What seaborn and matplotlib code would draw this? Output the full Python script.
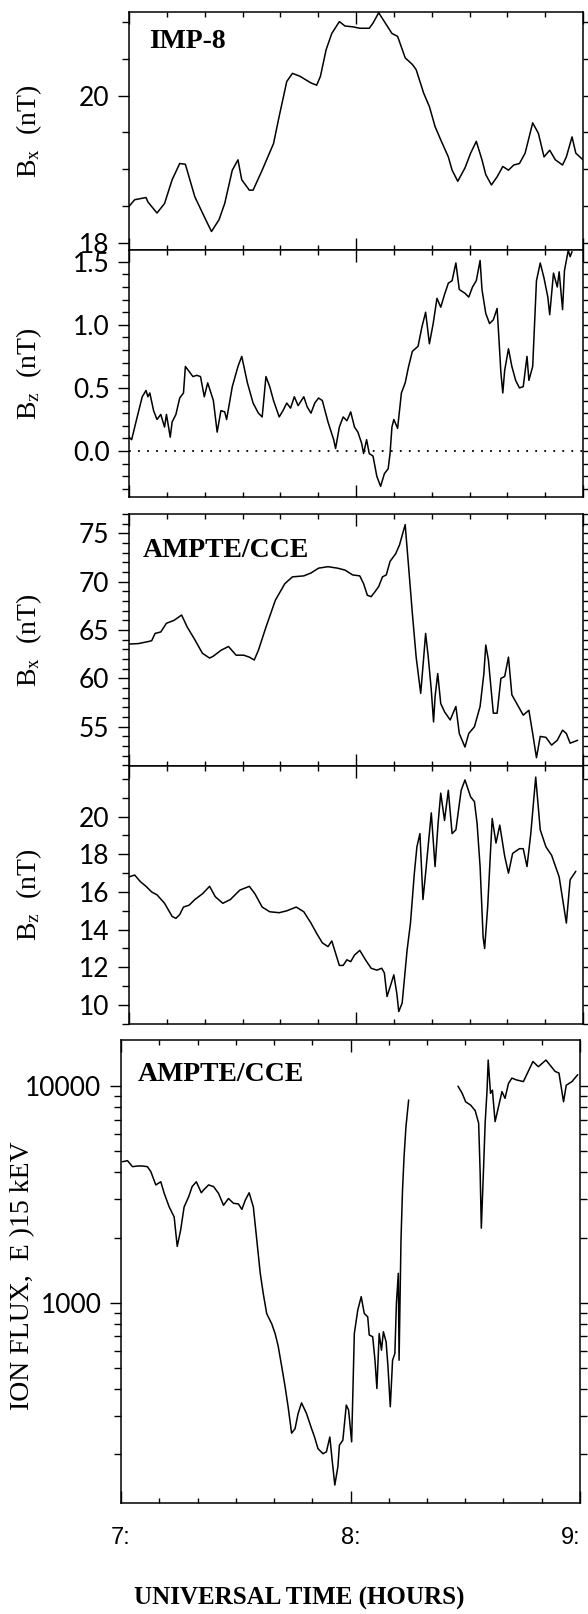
"""IMP-8 and AMPTE/CCE magnetic field and ion flux, 07:00-09:00 UT."""

import matplotlib
matplotlib.use("Agg")
import matplotlib.pyplot as plt
import matplotlib.ticker as mticker
import numpy as np
import pandas as pd
import seaborn as sns

# times are minutes after 07:00 UT
imp_bx_min = [0, 1.5, 4.5, 5.0, 7.4, 9.4, 11.4, 13.4, 14.9, 17.4, 19.9, 21.8, 23.8, 25.3,
              27.3, 28.8, 29.8, 31.8, 32.8, 35.2, 38.2, 39.7, 41.7, 43.2, 45.2, 48.1, 49.6,
              50.6, 52.1, 53.6, 55.6, 57.1, 59.1, 61.0, 63.5, 64.5, 66.0, 67.5, 69.5, 71.0,
              73.0, 74.9, 75.9, 77.9, 79.4, 80.9, 82.4, 84.4, 85.4, 86.9, 88.8, 90.3, 91.8,
              93.3, 94.3, 95.8, 97.3, 98.8, 100.3, 101.7, 103.2, 104.7, 106.7, 108.2, 109.7,
              111.2, 112.7, 114.6, 115.6, 117.1, 118.1, 120.0]
imp_bx = [18.50, 18.59, 18.62, 18.56, 18.41, 18.54, 18.86, 19.08, 19.07, 18.63, 18.36, 18.16,
          18.32, 18.54, 18.99, 19.13, 18.86, 18.72, 18.72, 18.99, 19.35, 19.72, 20.19, 20.30,
          20.26, 20.17, 20.14, 20.26, 20.62, 20.84, 21.00, 20.94, 20.93, 20.91, 20.91, 20.98,
          21.12, 21.00, 20.84, 20.80, 20.51, 20.42, 20.35, 20.03, 19.85, 19.58, 19.40, 19.17,
          18.99, 18.84, 19.02, 19.22, 19.38, 19.13, 18.93, 18.79, 18.90, 19.04, 18.99, 19.06,
          19.08, 19.22, 19.63, 19.49, 19.17, 19.26, 19.13, 19.06, 19.17, 19.44, 19.22, 19.13]

imp_bz_min = [0, 0.7, 2.0, 3.5, 4.5, 5.0, 5.5, 6.5, 7.4, 8.4, 9.4, 9.9, 10.9, 11.4, 12.4,
              13.4, 14.4, 14.9, 15.9, 16.9, 17.9, 18.9, 19.9, 20.8, 22.3, 23.3, 24.3, 25.3,
              25.8, 27.3, 28.8, 29.8, 31.3, 32.8, 34.2, 35.2, 36.2, 37.2, 38.2, 39.7, 40.7,
              41.7, 42.7, 43.7, 44.7, 46.2, 47.1, 48.1, 49.1, 50.1, 51.1, 52.6, 54.1, 54.6,
              55.6, 56.6, 57.6, 58.6, 59.6, 60.5, 61.5, 62.0, 62.8, 63.5, 64.5, 65.5, 66.5,
              67.5, 68.5, 69.0, 69.5, 70.0, 71.0, 72.0, 73.0, 73.9, 74.9, 76.4, 77.4, 78.4,
              79.4, 80.4, 81.4, 82.4, 83.4, 84.4, 85.4, 86.4, 87.3, 88.8, 89.8, 90.8, 91.8,
              92.8, 93.3, 94.3, 95.3, 96.3, 97.3, 97.8, 98.3, 98.8, 99.3, 100.3, 101.2, 102.2,
              103.2, 104.2, 105.2, 105.7, 106.7, 107.7, 108.7, 109.7, 110.7, 111.2, 112.2,
              113.2, 113.7, 114.6, 115.1, 116.1, 116.6, 117.1]
imp_bz = [0.11, 0.09, 0.25, 0.43, 0.48, 0.43, 0.46, 0.32, 0.25, 0.29, 0.19, 0.29, 0.11, 0.23,
          0.29, 0.42, 0.46, 0.67, 0.63, 0.59, 0.60, 0.59, 0.43, 0.54, 0.40, 0.15, 0.32, 0.31,
          0.25, 0.51, 0.67, 0.75, 0.54, 0.38, 0.30, 0.27, 0.59, 0.51, 0.40, 0.27, 0.32, 0.38,
          0.34, 0.43, 0.36, 0.43, 0.35, 0.30, 0.38, 0.42, 0.40, 0.23, 0.09, 0.02, 0.19, 0.27,
          0.24, 0.31, 0.19, 0.15, 0.06, -0.02, 0.09, -0.02, -0.04, -0.20, -0.28, -0.18, -0.14,
          -0.02, 0.19, 0.25, 0.18, 0.46, 0.54, 0.67, 0.79, 0.83, 0.98, 1.10, 0.85, 1.01, 1.21,
          1.14, 1.24, 1.33, 1.35, 1.49, 1.28, 1.25, 1.22, 1.30, 1.35, 1.51, 1.28, 1.09, 1.01,
          1.04, 1.13, 0.88, 0.62, 0.46, 0.64, 0.81, 0.67, 0.56, 0.50, 0.51, 0.75, 0.56, 0.67,
          1.35, 1.49, 1.37, 1.22, 1.08, 1.41, 1.30, 1.42, 1.12, 1.43, 1.59, 1.54, 1.58]

cce_bx_min = [0, 2.5, 5.0, 6.0, 6.9, 8.4, 9.9, 11.9, 13.9, 15.4, 17.4, 19.4, 21.3, 22.3,
              24.3, 26.3, 28.3, 30.3, 31.8, 33.1, 34.2, 36.2, 38.7, 41.2, 43.2, 46.2, 48.1,
              50.1, 52.6, 55.1, 57.1, 59.1, 61.0, 62.0, 63.0, 64.0, 65.0, 66.0, 67.0, 68.0,
              69.0, 70.5, 71.5, 73.0, 73.9, 74.9, 75.9, 77.1, 77.9, 78.4, 79.1, 79.9, 80.5,
              80.9, 81.6, 82.4, 83.4, 84.9, 86.4, 87.3, 88.8, 89.8, 91.3, 92.8, 93.8, 94.3,
              95.0, 96.3, 97.3, 98.3, 99.3, 100.3, 101.2, 103.2, 104.2, 105.7, 106.7, 107.7,
              108.7, 110.2, 111.7, 113.2, 114.6, 115.6, 116.6, 118.6]
cce_bx = [63.55, 63.6, 63.8, 63.9, 64.65, 64.8, 65.7, 66.0, 66.55, 65.3, 64.0, 62.6, 62.1,
          62.3, 62.9, 63.3, 62.4, 62.4, 62.2, 61.9, 62.9, 65.3, 68.1, 69.8, 70.5, 70.6, 70.9,
          71.4, 71.55, 71.4, 71.2, 70.7, 70.6, 69.8, 68.6, 68.45, 68.95, 69.5, 70.5, 70.7,
          72.1, 72.9, 73.8, 75.9, 71.55, 66.7, 62.2, 58.45, 62.2, 64.65, 62.2, 58.8, 55.5,
          58.1, 60.5, 57.4, 56.55, 55.7, 57.1, 54.3, 52.9, 54.3, 55.0, 57.1, 60.5, 63.45,
          61.9, 56.4, 56.4, 60.0, 60.2, 62.2, 58.3, 56.9, 56.2, 56.7, 54.3, 51.8, 54.0, 53.9,
          53.1, 53.6, 54.65, 54.3, 53.3, 53.6]

cce_bz_min = [0, 1.5, 3.0, 4.5, 6.0, 7.4, 9.4, 11.4, 12.4, 13.4, 14.4, 15.9, 17.4, 19.4,
              21.3, 22.8, 24.8, 26.8, 29.3, 31.8, 33.3, 35.2, 37.2, 39.7, 41.7, 44.2, 46.2,
              48.1, 49.6, 51.1, 52.6, 53.6, 54.6, 55.6, 56.6, 57.6, 58.6, 59.6, 61.0, 62.5,
              64.0, 65.5, 66.8, 67.5, 68.2, 69.0, 70.0, 70.8, 71.3, 72.2, 73.5, 74.4, 75.4,
              76.1, 76.9, 77.7, 78.4, 79.9, 80.9, 81.7, 82.4, 83.4, 84.4, 85.4, 86.4, 87.8,
              88.8, 90.3, 91.3, 92.0, 92.8, 93.6, 94.0, 94.8, 96.0, 97.0, 98.0, 99.3, 100.3,
              101.4, 103.2, 104.2, 105.2, 106.2, 107.5, 108.7, 110.2, 111.7, 113.7, 115.6,
              116.6, 118.1]
cce_bz = [16.8, 16.9, 16.55, 16.3, 16.0, 15.85, 15.4, 14.7, 14.6, 14.8, 15.2, 15.3, 15.6,
          15.9, 16.3, 15.75, 15.4, 15.6, 16.1, 16.3, 15.9, 15.2, 14.95, 14.9, 15.0, 15.2,
          14.95, 14.35, 13.8, 13.3, 13.1, 13.4, 12.75, 12.1, 12.1, 12.4, 12.3, 12.65, 12.9,
          12.4, 11.95, 11.85, 11.95, 11.7, 10.45, 10.95, 11.6, 10.6, 9.65, 10.1, 12.9, 14.35,
          16.95, 18.4, 19.1, 15.6, 17.0, 20.2, 17.35, 19.65, 21.25, 19.8, 21.4, 19.1, 19.3,
          21.4, 21.95, 21.05, 20.8, 19.65, 17.35, 13.6, 13.0, 15.2, 19.9, 18.6, 19.55, 17.9,
          17.0, 18.05, 18.3, 18.3, 17.35, 19.1, 22.1, 19.3, 18.4, 17.95, 16.8, 14.35, 16.65,
          17.1]

# ion flux, E > 15 keV: two data stretches with a gap between them
flux_a_min = [0.4, 1.7, 3.0, 4.3, 5.6, 6.9, 7.8, 9.1, 10.4, 11.3, 12.6, 13.9, 14.7, 15.6,
              16.5, 17.7, 18.6, 19.7, 21.0, 21.6, 22.9, 24.2, 25.5, 26.8, 28.1, 29.4, 30.7,
              31.6, 32.5, 33.5, 34.6, 35.5, 36.4, 37.2, 38.1, 39.4, 40.3, 41.1, 42.0, 42.9,
              43.7, 44.6, 45.5, 46.3, 47.2, 48.5, 49.8, 50.6, 51.5, 52.8, 53.7, 54.6, 55.2,
              55.9, 56.7, 57.1, 58.0, 58.9, 59.5, 60.3, 61.0, 61.9, 62.8, 63.6, 64.5, 64.9,
              65.8, 66.4, 66.9, 67.5, 68.1, 68.6, 69.3, 69.8, 70.4, 71.0, 71.6, 72.0, 72.5,
              72.7, 73.2, 73.6, 74.0, 74.5, 75.2]
flux_a = [4480, 4530, 4250, 4280, 4280, 4250, 4030, 3500, 3620, 3200, 2770, 2490, 1820, 2170,
          2770, 3090, 3440, 3620, 3220, 3320, 3500, 3440, 3200, 2820, 3030, 2880, 2860, 2700,
          2980, 3220, 2770, 1950, 1370, 1100, 890, 800, 720, 630, 510, 410, 330, 250, 262,
          308, 345, 308, 263, 240, 212, 201, 205, 240, 188, 144, 175, 220, 232, 337, 320,
          228, 721, 925, 1067, 893, 861, 710, 697, 543, 402, 721, 604, 735, 661, 507, 331,
          543, 583, 993, 1368, 543, 1950, 3320, 4720, 6500, 8630]
flux_b_min = [88.1, 89.2, 90.1, 91.4, 92.6, 93.5, 93.9, 94.2, 94.8, 95.2, 95.7, 96.0, 96.6,
              97.1, 97.8, 98.7, 99.6, 100.4, 101.3, 102.2, 103.3, 105.2, 107.7, 109.1, 111.1,
              113.5, 114.5, 115.7, 116.4, 117.9, 119.4]
flux_b = [10000, 9270, 8470, 8180, 7710, 6750, 3960, 2210, 4250, 6750, 9590, 13200, 9270,
          9590, 6860, 8040, 9440, 8790, 10300, 10900, 10700, 10500, 13000, 12300, 13200,
          11700, 11500, 8470, 10100, 10500, 11300]

hour_ticks = [7, 8, 9]
hour_labels = ["7:", "8:", "9:"]

SERIF = ["Liberation Serif", "DejaVu Serif"]
THIN = ["Lato", "DejaVu Sans"]

sns.set_theme(style="ticks", rc={"axes.linewidth": 1.1, "xtick.color": "black",
                                 "ytick.color": "black", "axes.edgecolor": "black",
                                 "text.color": "black", "axes.labelcolor": "black"})
plt.rcParams["font.family"] = THIN
plt.rcParams["mathtext.fontset"] = "stix"


def to_frame(minutes, values):
    return pd.DataFrame({"ut": 7 + np.asarray(minutes, dtype=float) / 60.0,
                         "value": np.asarray(values, dtype=float)})


def trace(ax, minutes, values):
    sns.lineplot(data=to_frame(minutes, values), x="ut", y="value", ax=ax,
                 color="black", linewidth=1.1, estimator=None, sort=False)


def style_axis(ax, ylabel):
    ax.set_xlim(7, 9)
    ax.xaxis.set_major_locator(mticker.FixedLocator(hour_ticks))
    ax.xaxis.set_minor_locator(mticker.MultipleLocator(1 / 6))
    ax.tick_params(axis="x", which="both", direction="in", top=True, bottom=True,
                   labelbottom=False, width=1.0)
    ax.tick_params(axis="x", which="major", length=8.5)
    ax.tick_params(axis="x", which="minor", length=3.6)
    ax.tick_params(axis="y", which="both", direction="out", left=True, right=True, width=1.0)
    ax.tick_params(axis="y", which="major", length=8, pad=6, labelsize=19)
    ax.tick_params(axis="y", which="minor", length=5)
    ax.set_xlabel("")
    ax.set_ylabel(ylabel, fontsize=20, family=SERIF)
    # label anchored at its right edge, ~45 px from the figure's left
    ax.yaxis.set_label_coords(-0.187, 0.5)
    for side in ("top", "right", "left", "bottom"):
        ax.spines[side].set_visible(True)


fig = plt.figure(figsize=(5.88, 16.14), dpi=100)
H = 1614.0
W = 588.0


def add_panel(top, bottom, left=129, right=583):
    return fig.add_axes([left / W, 1 - bottom / H, (right - left) / W, (bottom - top) / H])


ax1 = add_panel(12, 250)
ax2 = add_panel(250, 496.7)
ax3 = add_panel(514, 766)
ax4 = add_panel(766, 1024)
ax5 = add_panel(1040, 1503, left=121, right=580)

# IMP-8 Bx
trace(ax1, imp_bx_min, imp_bx)
ax1.set_ylim(17.91, 21.13)
ax1.yaxis.set_major_locator(mticker.FixedLocator([18, 20]))
ax1.yaxis.set_major_formatter(mticker.FormatStrFormatter("%d"))
ax1.yaxis.set_minor_locator(mticker.MultipleLocator(0.5))

# IMP-8 Bz
trace(ax2, imp_bz_min, imp_bz)
ax2.axhline(0, color="black", linewidth=1.3, linestyle=(0, (1, 4)))
ax2.set_ylim(-0.362, 1.593)
ax2.yaxis.set_major_locator(mticker.FixedLocator([0.0, 0.5, 1.0, 1.5]))
ax2.yaxis.set_major_formatter(mticker.FormatStrFormatter("%.1f"))
ax2.yaxis.set_minor_locator(mticker.MultipleLocator(0.1))

# AMPTE/CCE Bx
trace(ax3, cce_bx_min, cce_bx)
ax3.set_ylim(50.94, 77.0)
ax3.yaxis.set_major_locator(mticker.FixedLocator([55, 60, 65, 70, 75]))
ax3.yaxis.set_major_formatter(mticker.FormatStrFormatter("%d"))
ax3.yaxis.set_minor_locator(mticker.MultipleLocator(1))

# AMPTE/CCE Bz
trace(ax4, cce_bz_min, cce_bz)
ax4.set_ylim(8.99, 22.69)
ax4.yaxis.set_major_locator(mticker.FixedLocator([10, 12, 14, 16, 18, 20]))
ax4.yaxis.set_major_formatter(mticker.FormatStrFormatter("%d"))
ax4.yaxis.set_minor_locator(mticker.MultipleLocator(1))

# ion flux
ax5.set_yscale("log")
trace(ax5, flux_a_min, flux_a)
trace(ax5, flux_b_min, flux_b)
ax5.set_ylim(119, 16340)
ax5.yaxis.set_major_locator(mticker.FixedLocator([1000, 10000]))
ax5.yaxis.set_major_formatter(mticker.FormatStrFormatter("%d"))
ax5.yaxis.set_minor_locator(mticker.LogLocator(base=10, subs=np.arange(2, 10)))
ax5.yaxis.set_minor_formatter(mticker.NullFormatter())

style_axis(ax1, "B$_{\\mathrm{x}}$  (nT)")
style_axis(ax2, "B$_{\\mathrm{z}}$  (nT)")
style_axis(ax3, "B$_{\\mathrm{x}}$  (nT)")
style_axis(ax4, "B$_{\\mathrm{z}}$  (nT)")
style_axis(ax5, "ION FLUX,  E )15 kEV")
ax5.yaxis.set_label_coords(-0.187, 0.49)

ax5.tick_params(axis="x", which="major", labelbottom=True, pad=17, labelsize=17)
ax5.set_xticklabels(hour_labels, family=["Liberation Sans", "DejaVu Sans"])
ax5.get_xticklabels()[-1].set_horizontalalignment("right")

for ax, name, x, y in [(ax1, "IMP-8", 0.045, 0.875), (ax3, "AMPTE/CCE", 0.03, 0.855),
                       (ax5, "AMPTE/CCE", 0.037, 0.925)]:
    ax.text(x, y, name, transform=ax.transAxes,
            fontsize=20, fontweight="bold", family=SERIF, ha="left", va="center")

fig.text(299 / W, 1 - 1598 / H, "UNIVERSAL TIME (HOURS)", fontsize=18, fontweight="bold",
         family=SERIF, ha="center", va="center")

fig.savefig("out.png", dpi=100)
